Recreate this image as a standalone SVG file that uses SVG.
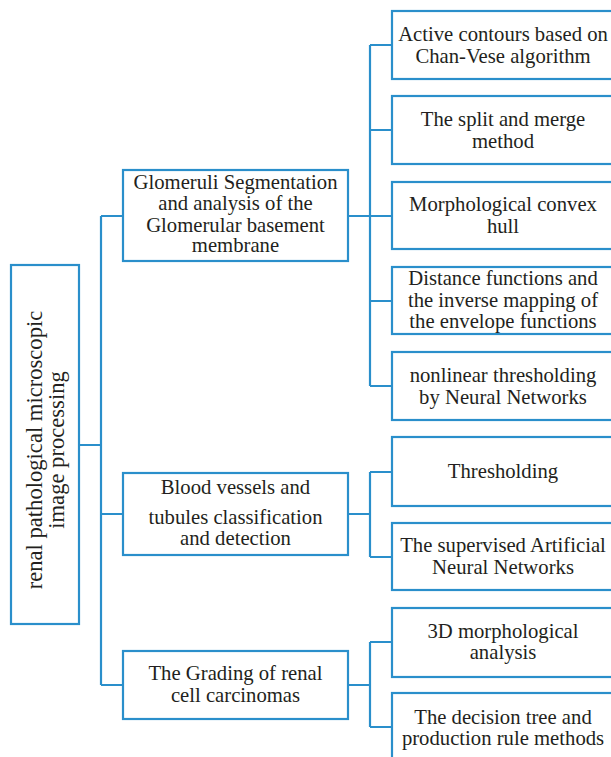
<svg xmlns="http://www.w3.org/2000/svg" width="611" height="757" viewBox="0 0 611 757">
<style>
.b{fill:#fff;stroke:#2a8fcb;stroke-width:2.2}
.c{fill:none;stroke:#2a8fcb;stroke-width:2.2}
.t{font-family:'Liberation Serif','DejaVu Serif',serif;font-size:20.7px;fill:#231f20;text-anchor:middle}
</style>
<rect width="611" height="757" fill="#fff"/>
<g id="connectors">
<path class="c" d="M79,445H101M101,216V685M101,216H123M101,514H123M101,685H123"/>
<path class="c" d="M348,216H370M370,45V386M370,45H392M370,130H392M370,216H392M370,301H392M370,386H392"/>
<path class="c" d="M348,514H370M370,472V557M370,472H392M370,557H392"/>
<path class="c" d="M348,685H370M370,642V727M370,642H392M370,727H392"/>
</g>
<g id="root" class="t"><rect class="b" x="11" y="265" width="68" height="359"/>
<text transform="translate(42,450) rotate(-90)" font-size="22.6">renal pathological microscopic</text>
<text transform="translate(64,450) rotate(-90)" font-size="22.6">image processing</text></g>
<g id="glomeruli" class="t"><rect class="b" x="123" y="170" width="225" height="91"/>
<text x="235.5" y="189">Glomeruli Segmentation</text><text x="235.5" y="210">and analysis of the</text><text x="235.5" y="231.5">Glomerular basement</text><text x="235.5" y="252">membrane</text></g>
<g id="blood" class="t"><rect class="b" x="123" y="473" width="225" height="82"/>
<text x="235.5" y="494">Blood vessels and</text><text x="235.5" y="524">tubules classification</text><text x="235.5" y="545">and detection</text></g>
<g id="grading" class="t"><rect class="b" x="123" y="651" width="225" height="68"/>
<text x="235.5" y="680">The Grading of renal</text><text x="235.5" y="702">cell carcinomas</text></g>
<g id="chanvese" class="t"><rect class="b" x="392" y="11" width="222" height="68"/>
<text x="503" y="40.5">Active contours based on</text><text x="503" y="62.5">Chan-Vese algorithm</text></g>
<g id="split" class="t"><rect class="b" x="392" y="96" width="222" height="68"/>
<text x="503" y="126">The split and merge</text><text x="503" y="148">method</text></g>
<g id="convex" class="t"><rect class="b" x="392" y="182" width="222" height="67"/>
<text x="503" y="211">Morphological convex</text><text x="503" y="233">hull</text></g>
<g id="distance" class="t"><rect class="b" x="392" y="267" width="222" height="67"/>
<text x="503" y="285">Distance functions and</text><text x="503" y="306.5">the inverse mapping of</text><text x="503" y="328">the envelope functions</text></g>
<g id="nonlinear" class="t"><rect class="b" x="392" y="352" width="222" height="68"/>
<text x="503" y="381.5">nonlinear thresholding</text><text x="503" y="403.5">by Neural Networks</text></g>
<g id="thresholding" class="t"><rect class="b" x="392" y="437" width="222" height="69"/>
<text x="503" y="478">Thresholding</text></g>
<g id="ann" class="t"><rect class="b" x="392" y="523" width="222" height="67"/>
<text x="503" y="551.5">The supervised Artificial</text><text x="503" y="573.5">Neural Networks</text></g>
<g id="morph3d" class="t"><rect class="b" x="392" y="608" width="222" height="69"/>
<text x="503" y="638">3D morphological</text><text x="503" y="658.5">analysis</text></g>
<g id="decision" class="t"><rect class="b" x="392" y="693" width="222" height="70"/>
<text x="503" y="723.5">The decision tree and</text><text x="503" y="745">production rule methods</text></g>
</svg>
